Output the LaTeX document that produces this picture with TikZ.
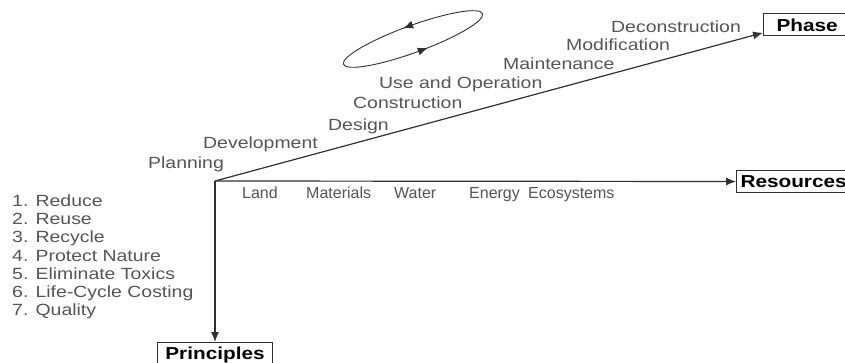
\documentclass[tikz,border=0pt]{standalone}
\usepackage{fontspec}
\setmainfont{Liberation Sans}[FakeStretch=1.2]
\newfontfamily\resfont{Liberation Sans}
\usetikzlibrary{arrows.meta, decorations.markings}
\definecolor{txtgray}{HTML}{555555}
\definecolor{linegray}{HTML}{303030}

\begin{document}
\begin{tikzpicture}[x=1pt, y=-1pt,
  lbl/.style={anchor=base west, inner sep=0pt, text=txtgray, font=\fontsize{16.2}{18}\selectfont},
  reslbl/.style={lbl, font=\resfont\fontsize{16}{18}\selectfont},
  axbox/.style={draw=linegray, line width=1pt, inner ysep=0pt, minimum height=22pt, anchor=west, font=\fontsize{17.3}{19}\selectfont\bfseries},
  axis/.style={draw=linegray, line width=1.2pt, -{Latex[length=10pt, width=8pt]}},
  turn/.style={decoration={markings,
    mark=at position 0.215 with {\arrowreversed{Latex[length=10pt, width=8pt]}},
    mark=at position 0.732 with {\arrowreversed{Latex[length=10pt, width=8pt]}}}, postaction={decorate}}]
\useasboundingbox (0,0) rectangle (845,363);

\coordinate (o) at (215,181);
\node[axbox, inner xsep=13pt] (phase) at (763,25) {Phase};
\node[axbox, inner xsep=4pt] (res) at (736,181.5) {Resources};
\node[axbox, anchor=north, inner xsep=8pt, minimum height=26pt] (prin) at (215,342) {Principles};

\draw[axis] (o) -- (phase.190);
\draw[axis] (o) -- (res.west);
\draw[axis] (o) -- (prin.north);

\node[lbl] (plan) at (148,169) {Planning};
\node[lbl] (dev) at (203,149) {Development};
\node[lbl] (des) at (328,131) {Design};
\node[lbl] (cons) at (353,109) {Construction};
\node[lbl] (use) at (379,89) {Use and Operation};
\node[lbl] (maint) at (503,70) {Maintenance};
\node[lbl] (modif) at (566,51) {Modification};
\node[lbl] (decons) at (611,33) {Deconstruction};

\node[reslbl] (land) at (242,199) {Land};
\node[reslbl] (mat) at (306,199) {Materials};
\node[reslbl] (water) at (394,199) {Water};
\node[reslbl] (energy) at (469,199) {Energy};
\node[reslbl] (eco) at (528,199) {Ecosystems};

\foreach \t [count=\i] in {1. Reduce, 2. Reuse, 3. Recycle, 4. Protect Nature, 5. Eliminate Toxics, 6. Life-Cycle Costing, 7. Quality}
  \node[lbl] (p\i) at (12,189+18*\i) {\t};

\coordinate (c) at (413,39);
\draw[linegray, line width=0.9pt, turn, rotate around={20:(c)}] (c) ellipse [x radius=74, y radius=13.5];
\end{tikzpicture}
\end{document}
